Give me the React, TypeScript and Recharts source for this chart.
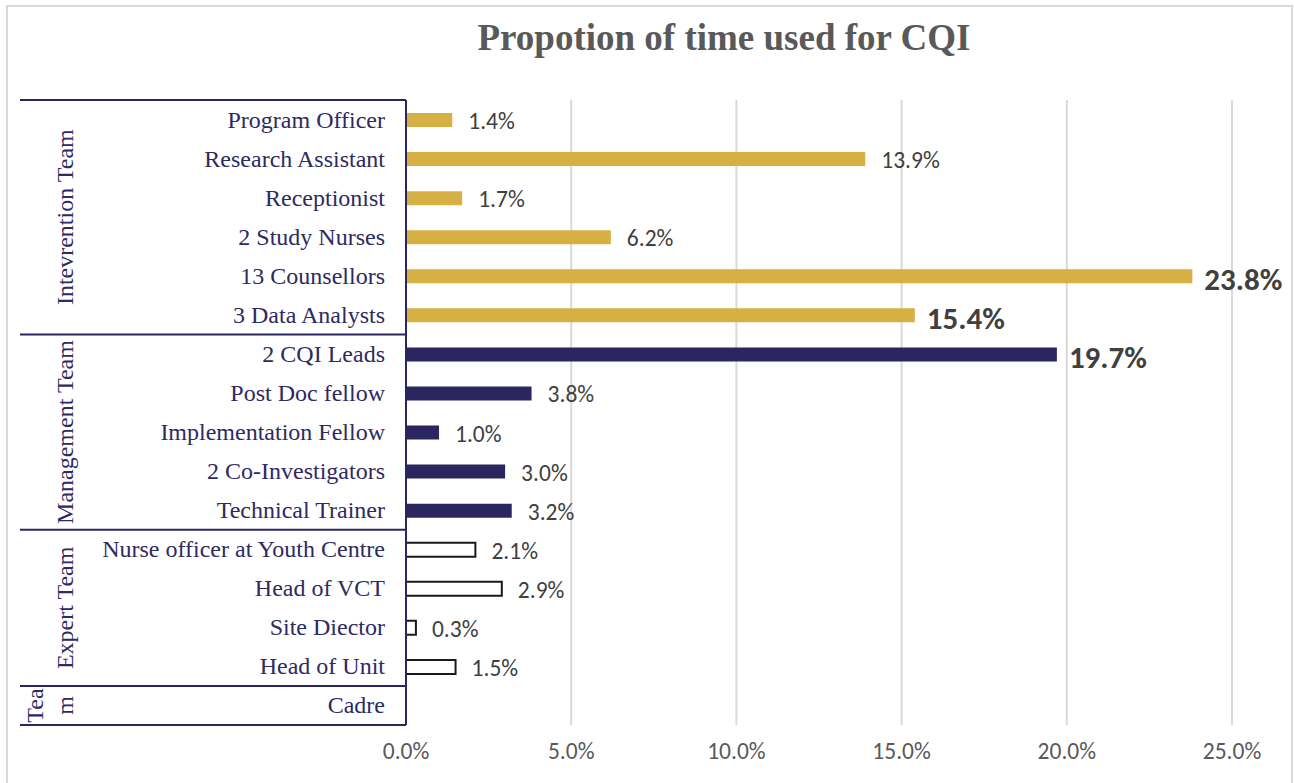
import { BarChart, Bar, XAxis, YAxis, CartesianGrid, Cell, LabelList } from 'recharts';

const roles = [
  'Program Officer',
  'Research Assistant',
  'Receptionist',
  '2 Study Nurses',
  '13 Counsellors',
  '3 Data Analysts',
  '2 CQI Leads',
  'Post Doc fellow',
  'Implementation Fellow',
  '2 Co-Investigators',
  'Technical Trainer',
  'Nurse officer at Youth Centre',
  'Head of VCT',
  'Site Diector',
  'Head of Unit',
  'Cadre',
];

const shares = [1.4, 13.9, 1.7, 6.2, 23.8, 15.4, 19.7, 3.8, 1.0, 3.0, 3.2, 2.1, 2.9, 0.3, 1.5, null];

const teams = [
  'Intevrention Team', 'Intevrention Team', 'Intevrention Team', 'Intevrention Team', 'Intevrention Team', 'Intevrention Team',
  'Management Team', 'Management Team', 'Management Team', 'Management Team', 'Management Team',
  'Expert Team', 'Expert Team', 'Expert Team', 'Expert Team',
  'Team',
];

const xTicks = [0, 5, 10, 15, 20, 25];

const data = roles.map((role, i) => ({ role, value: shares[i], team: teams[i] }));

const W = 1294;
const H = 783;
const M = { top: 100, right: 62, bottom: 18, left: 0 };
const Y_WIDTH = 406;
const X_HEIGHT = 40;
const PLOT_H = H - M.top - M.bottom - X_HEIGHT;
const BAND = PLOT_H / roles.length;

const NAVY = '#2B2660';
const LABEL_NAVY = '#2E2A62';
const SERIF = '"Times New Roman", "Liberation Serif", serif';
const SANS = 'Calibri, Carlito, Lato, sans-serif';

const teamStyle: Record<string, { fill: string; stroke: string }> = {
  'Intevrention Team': { fill: '#D6B043', stroke: 'none' },
  'Management Team': { fill: NAVY, stroke: 'none' },
  'Expert Team': { fill: '#ffffff', stroke: '#1a1a1a' },
  Team: { fill: '#ffffff', stroke: '#1a1a1a' },
};

// split a rotated group label into lines that fit into the group height
const wrap = (text: string, room: number, fontSize: number) => {
  const perChar = fontSize * 0.5;
  if (text.length * perChar <= room) return [text];
  const n = Math.max(1, Math.floor(room / perChar));
  const out: string[] = [];
  for (let i = 0; i < text.length; i += n) out.push(text.slice(i, i + n));
  return out;
};

const RoleTick = (props: any) => {
  const { y, payload } = props;
  const i = payload.index as number;
  const team = teams[i];
  const first = i === 0 || teams[i - 1] !== team;
  const last = i === roles.length - 1;
  const parts: any[] = [];

  if (first) {
    const count = teams.filter((t) => t === team).length;
    const top = y - BAND / 2;
    const center = top + (count * BAND) / 2;
    const lines = wrap(team, count * BAND, 24);
    parts.push(
      <line key="sep" x1={20} x2={Y_WIDTH} y1={top} y2={top} stroke={NAVY} strokeWidth={2} />
    );
    lines.forEach((ln, k) => {
      const gx = 65 - (lines.length - 1 - k) * 30;
      parts.push(
        <text
          key={'g' + k}
          x={gx}
          y={center}
          transform={`rotate(-90 ${gx} ${center})`}
          textAnchor="middle"
          dominantBaseline="central"
          fontFamily={SERIF}
          fontSize={24}
          fill={LABEL_NAVY}
        >
          {ln}
        </text>
      );
    });
  }
  if (last) {
    parts.push(
      <line key="bottom" x1={20} x2={Y_WIDTH} y1={y + BAND / 2} y2={y + BAND / 2} stroke={NAVY} strokeWidth={2} />
    );
  }

  return (
    <g>
      {parts}
      <text x={Y_WIDTH - 21} y={y} textAnchor="end" dominantBaseline="central" fontFamily={SERIF} fontSize={24} fill={LABEL_NAVY}>
        {payload.value}
      </text>
    </g>
  );
};

const ValueLabel = (props: any) => {
  const { x, y, width, height, value } = props;
  if (value === null || value === undefined) return null;
  const big = value >= 15;
  return (
    <text
      x={x + width + (big ? 12 : 16)}
      y={y + height / 2 + (big ? 3 : 1)}
      dominantBaseline="central"
      fontFamily={SANS}
      fontSize={big ? 31 : 23.5}
      fontWeight={big ? 700 : 400}
      fill="#404040"
    >
      {value.toFixed(1)}%
    </text>
  );
};

export default function App() {
  return (
    <div style={{ position: 'absolute', left: 0, top: 0, width: W, height: H, overflow: 'hidden', background: '#fff' }}>
      <div
        style={{
          position: 'absolute',
          left: 6,
          top: 5,
          width: 1287,
          height: 820,
          border: '2px solid #d9d9d9',
          boxSizing: 'border-box',
        }}
      />
      <div
        style={{
          position: 'absolute',
          left: 0,
          top: 19,
          width: 1448,
          textAlign: 'center',
          fontFamily: SERIF,
          fontWeight: 700,
          fontSize: 37,
          lineHeight: '37px',
          color: '#595959',
        }}
      >
        Propotion of time used for CQI
      </div>
      <div style={{ position: 'absolute', left: 0, top: 0 }}>
        <BarChart width={W} height={H} data={data} layout="vertical" margin={M}>
          <CartesianGrid horizontal={false} stroke="#d9d9d9" strokeWidth={2} />
          <XAxis
            type="number"
            domain={[0, 25]}
            ticks={xTicks}
            height={X_HEIGHT}
            axisLine={false}
            tickLine={false}
            tickMargin={11}
            tickFormatter={(v: number) => `${v.toFixed(1)}%`}
            tick={{ fill: '#595959', fontSize: 23.5, fontFamily: SANS }}
          />
          <YAxis
            type="category"
            dataKey="role"
            width={Y_WIDTH}
            axisLine={{ stroke: NAVY, strokeWidth: 2 }}
            tickLine={false}
            tick={<RoleTick />}
            interval={0}
          />
          <Bar dataKey="value" barSize={14} isAnimationActive={false}>
            {data.map((d, i) => (
              <Cell
                key={i}
                fill={teamStyle[d.team].fill}
                stroke={teamStyle[d.team].stroke}
                strokeWidth={teamStyle[d.team].stroke === 'none' ? 0 : 2}
              />
            ))}
            <LabelList dataKey="value" content={<ValueLabel />} />
          </Bar>
        </BarChart>
      </div>
    </div>
  );
}
